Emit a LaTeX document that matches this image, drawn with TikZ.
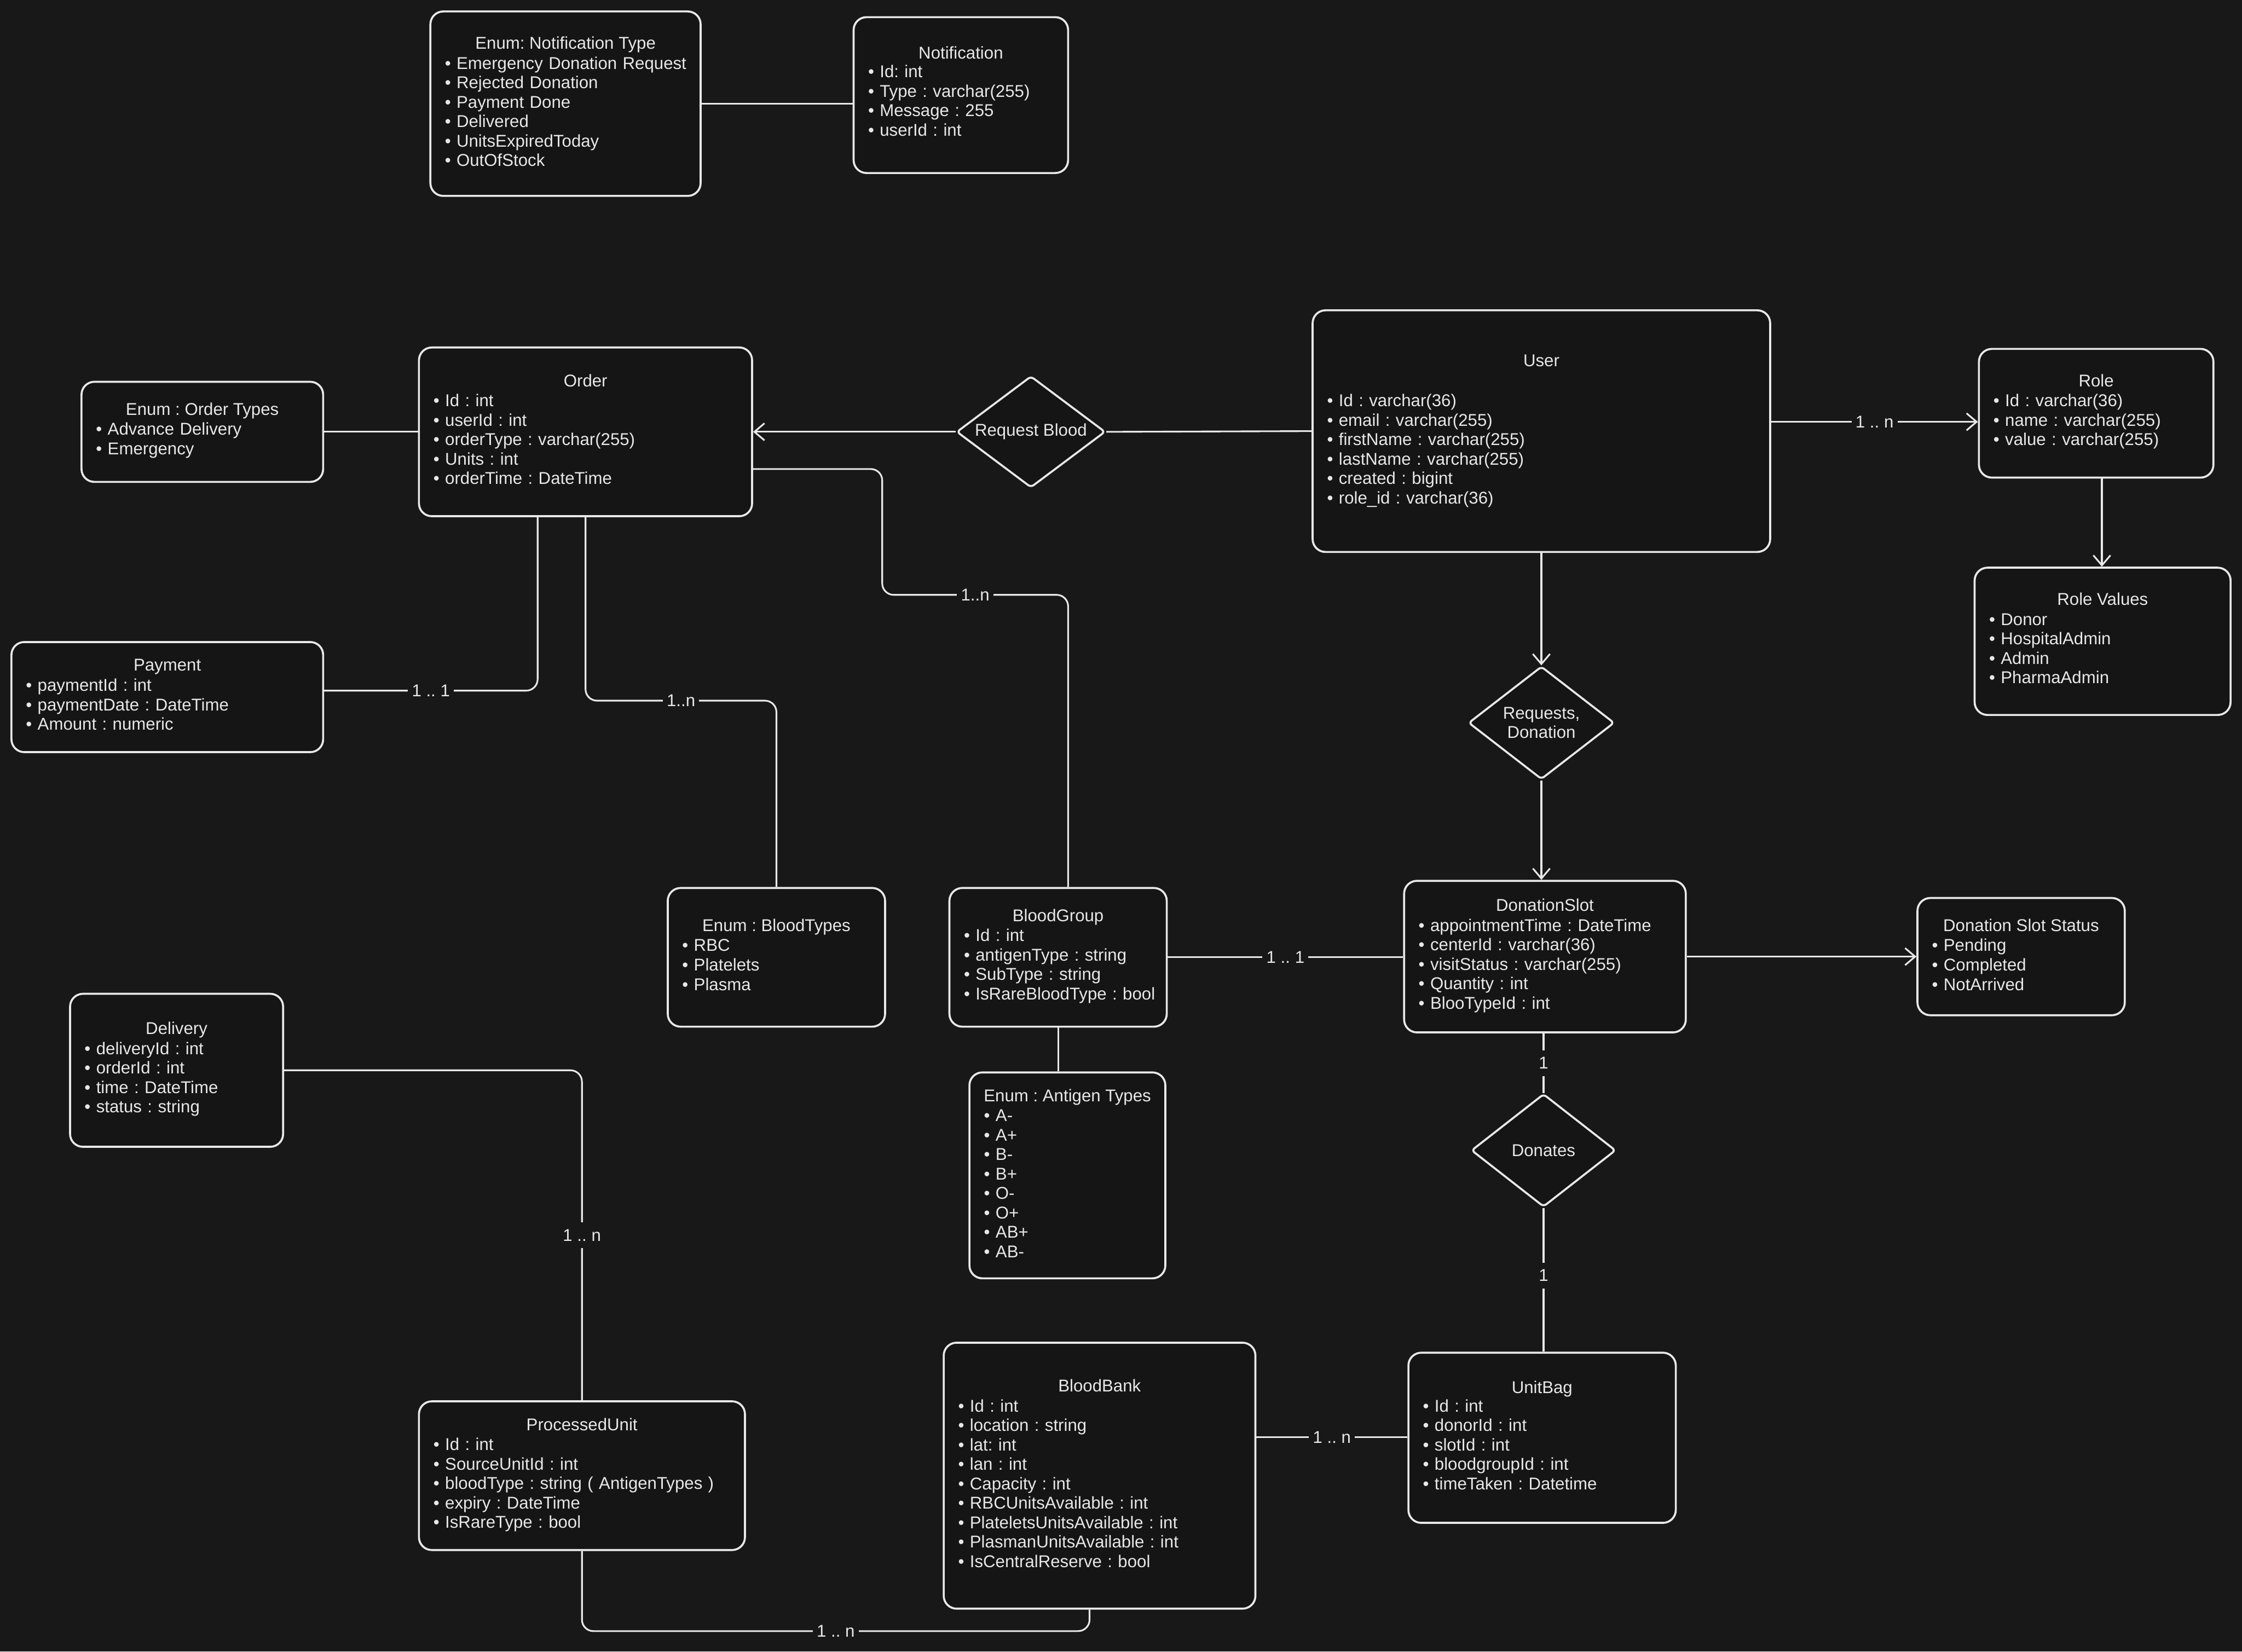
\documentclass[tikz,border=0pt]{standalone}
\usepackage{fontspec}
\setmainfont{Liberation Sans}
\usetikzlibrary{arrows.meta,shapes.geometric,fit}
\definecolor{bg}{HTML}{181818}
\definecolor{fg}{HTML}{E8E8E8}
\definecolor{boxfill}{HTML}{151515}
\frenchspacing

% #1 name, #2 left, #3 top, #4 right, #5 bottom, #6 title y, #7 body y, #8 title, #9 body
\newcommand\entbox[9]{%
  \node[ebox, fit={(#2,#3) (#4,#5)}] (#1) {};
  \pgfmathsetmacro\entw{(#4-#2-10)*0.05}
  \node[etxt, anchor=base] (#1-h) at ({(#2+#4)/2},#6+4.3) {#8};
  \node[etxt, anchor=base west, text width=\entw cm] (#1-b) at (#2+10,#7+4.3) {#9};
}

\begin{document}
\begin{tikzpicture}[x=0.05cm,y=-0.05cm,
  ebox/.style={draw=fg, fill=boxfill, line width=2pt, rounded corners=0.45cm, inner sep=0pt},
  etxt/.style={text=fg, inner sep=0pt, align=left, font=\fontsize{17pt}{19.35pt}\selectfont\frenchspacing},
  rel/.style={diamond, draw=fg, fill=boxfill, line width=2pt, aspect=1.33, inner sep=0pt,
    text=fg, align=center, rounded corners=0.12cm, font=\fontsize{17pt}{19.35pt}\selectfont},
  conn/.style={draw=fg, line width=1.7pt, rounded corners=0.4cm},
  arr/.style={conn, -{Straight Barb[length=10pt,width=17pt,line width=1.7pt]}},
  lbl/.style={fill=bg, text=fg, inner xsep=4pt, inner ysep=1pt, rounded corners=0pt,
    font=\fontsize{17pt}{19.35pt}\selectfont},
  vlbl/.style={lbl, inner xsep=2pt, inner ysep=7pt},
]
\fill[bg] (0,0) rectangle (1568,1155);
\useasboundingbox (0,0) rectangle (1568,1155);

\entbox{ntype}{301}{8}{490}{137}{30}{44}{Enum: Notification Type}{• Emergency Donation Request\\• Rejected Donation\\• Payment Done\\• Delivered\\• UnitsExpiredToday\\• OutOfStock}
\entbox{notif}{597}{12}{747}{121}{37}{50}{Notification}{• Id: int\\• Type : varchar(255)\\• Message : 255\\• userId : int}
\entbox{otypes}{57}{267}{226}{337}{286}{300}{Enum : Order Types}{• Advance Delivery\\• Emergency}
\entbox{order}{293}{243}{526}{361}{266}{280}{Order}{• Id : int\\• userId : int\\• orderType : varchar(255)\\• Units : int\\• orderTime : DateTime}
\entbox{user}{918}{217}{1238}{386}{252}{280}{User}{• Id : varchar(36)\\• email : varchar(255)\\• firstName : varchar(255)\\• lastName : varchar(255)\\• created : bigint\\• role\_id : varchar(36)}
\entbox{role}{1384}{244}{1548}{334}{266}{280}{Role}{• Id : varchar(36)\\• name : varchar(255)\\• value : varchar(255)}
\entbox{rvals}{1381}{397}{1560}{500}{419}{433}{Role Values}{• Donor\\• HospitalAdmin\\• Admin\\• PharmaAdmin}
\entbox{payment}{8}{449}{226}{526}{465}{479}{Payment}{• paymentId : int\\• paymentDate : DateTime\\• Amount : numeric}
\entbox{btypes}{467}{621}{619}{718}{647}{661}{Enum : BloodTypes}{• RBC\\• Platelets\\• Plasma}
\entbox{bgroup}{664}{621}{816}{718}{640}{654}{BloodGroup}{• Id : int\\• antigenType : string\\• SubType : string\\• IsRareBloodType : bool}
\entbox{dslot}{982}{616}{1179}{722}{633}{647}{DonationSlot}{• appointmentTime : DateTime\\• centerId : varchar(36)\\• visitStatus : varchar(255)\\• Quantity : int\\• BlooTypeId : int}
\entbox{dstatus}{1341}{628}{1486}{710}{647}{661}{Donation Slot Status}{• Pending\\• Completed\\• NotArrived}
\entbox{antigen}{678}{750}{815}{894}{766}{780}{Enum : Antigen Types}{• A-\\• A+\\• B-\\• B+\\• O-\\• O+\\• AB+\\• AB-}
\entbox{delivery}{49}{695}{198}{802}{719}{733}{Delivery}{• deliveryId : int\\• orderId : int\\• time : DateTime\\• status : string}
\entbox{punit}{293}{980}{521}{1084}{996}{1010}{ProcessedUnit}{• Id : int\\• SourceUnitId : int\\• bloodType : string ( AntigenTypes )\\• expiry : DateTime\\• IsRareType : bool}
\entbox{bbank}{660}{939}{878}{1125}{969}{983}{BloodBank}{• Id : int\\• location : string\\• lat: int\\• lan : int\\• Capacity : int\\• RBCUnitsAvailable : int\\• PlateletsUnitsAvailable : int\\• PlasmanUnitsAvailable : int\\• IsCentralReserve : bool}
\entbox{unitbag}{985}{946}{1172}{1065}{970}{983}{UnitBag}{• Id : int\\• donorId : int\\• slotId : int\\• bloodgroupId : int\\• timeTaken : Datetime}

\node[rel, minimum width=5.2cm, minimum height=3.9cm] (reqblood) at (721,302) {Request Blood};
\node[rel, minimum width=5.1cm, minimum height=3.95cm] (reqdon) at (1078,505.5) {Requests,\\Donation};
\node[rel, minimum width=5.05cm, minimum height=3.95cm] (donates) at (1079.5,804.5) {Donates};

% connectors
\draw[conn] (ntype.east) -- (ntype.east -| notif.west);
\draw[conn] (otypes.east) -- (otypes.east -| order.west);
\draw[arr] (reqblood.west) -- (reqblood.west -| order.east);
\draw[conn] (user.west) -- (reqblood.east);
\draw[conn] ([yshift=-1.3cm]order.east) -- (617,328) -- (617,416) -| node[lbl,pos=0.25]{1..n} ([xshift=0.35cm]bgroup.north);
\draw[conn] ([xshift=-1.675cm]order.south) |- node[lbl,pos=0.75]{1 .. 1} ([yshift=0.225cm]payment.east);
\draw[conn] (order.south) -- (409.5,490) -| node[lbl,pos=0.25]{1..n} (btypes.north);
\draw[arr] ([yshift=0.325cm]user.east) -- node[lbl]{1 .. n} ([yshift=0.325cm]user.east -| role.west);
\draw[arr] ([xshift=0.2cm]role.south) -- ([xshift=0.2cm]role.south |- rvals.north);
\draw[arr] (user.south) -- (reqdon.north);
\draw[arr] (reqdon.south) -- (reqdon.south |- dslot.north);
\draw[conn] (bgroup.east) -- node[lbl]{1 .. 1} (bgroup.east -| dslot.west);
\draw[arr] (dslot.east) -- (dslot.east -| dstatus.west);
\draw[conn] (bgroup.south) -- (bgroup.south |- antigen.north);
\draw[conn] (donates.north |- dslot.south) -- node[vlbl]{1} (donates.north);
\draw[conn] (donates.south) -- node[vlbl,pos=0.47]{1} (donates.south |- unitbag.north);
\draw[conn] ([yshift=1.35cm]bbank.east) -- node[lbl]{1 .. n} ([yshift=1.35cm]bbank.east -| unitbag.west);
\draw[conn] (delivery.east) -| node[vlbl,pos=0.75]{1 .. n} (punit.north);
\draw[conn] (punit.south) -- ++(0,56) -| node[lbl,pos=0.25]{1 .. n} ([xshift=-0.35cm]bbank.south);
\end{tikzpicture}
\end{document}
